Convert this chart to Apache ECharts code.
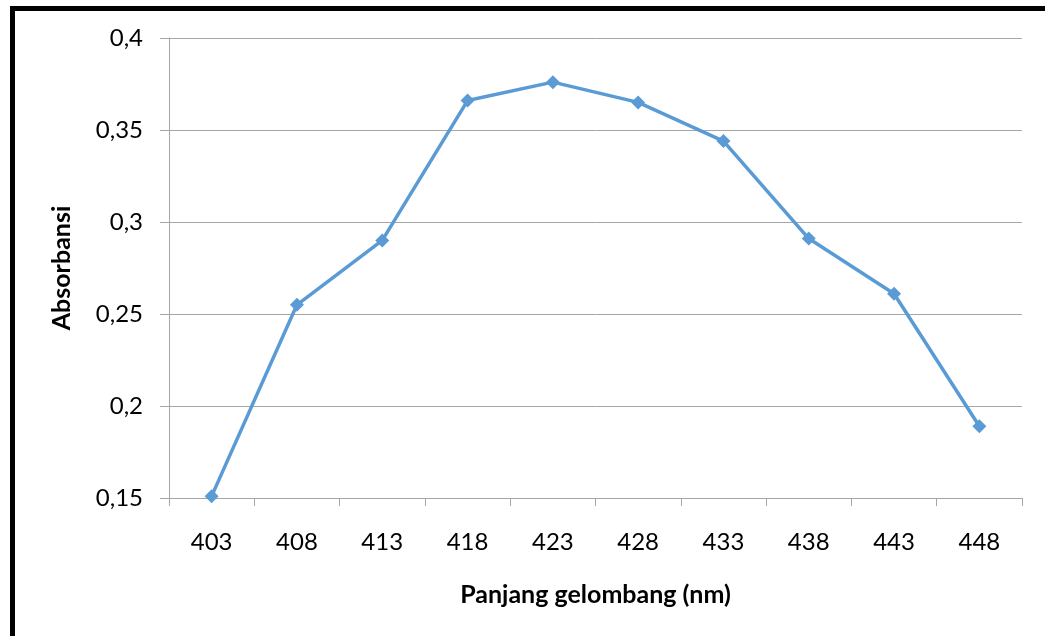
<!DOCTYPE html>
<html><head><meta charset="utf-8">
<script src="https://cdn.jsdelivr.net/npm/echarts@6/dist/echarts.min.js"></script>
<style>html,body{margin:0;padding:0;background:#fff}#c{width:1045px;height:636px}</style>
</head><body><div id="c"></div>
<script>
const categories = ['403','408','413','418','423','428','433','438','443','448'];
const absorbance = [0.151,0.255,0.290,0.366,0.376,0.365,0.344,0.291,0.261,0.189];
const yTicks = {min:0.15, max:0.4, interval:0.05};
const xTitle = 'Panjang gelombang (nm)';
const yTitle = 'Absorbansi';

const FONT = 'Lato';
const chart = echarts.init(document.getElementById('c'), null, {renderer:'canvas'});
chart.setOption({
  animation:false,
  backgroundColor:'#fff',
  graphic:[{type:'rect', shape:{x:12.5,y:8.5,width:1200,height:800}, style:{fill:'none',stroke:'#000',lineWidth:5}, z:100}],
  grid:{left:169, right:23, top:38, bottom:138},
  xAxis:{
    type:'category', data:categories, boundaryGap:true,
    name:xTitle, nameLocation:'middle', nameGap:84,
    nameTextStyle:{fontFamily:FONT,fontWeight:'bold',fontSize:25,color:'#000'},
    axisLine:{lineStyle:{color:'#a6a6a6',width:1}},
    axisTick:{show:true,length:8,alignWithLabel:false,lineStyle:{color:'#a6a6a6'}},
    axisLabel:{fontFamily:FONT,fontSize:24,color:'#000',margin:32,interval:0}
  },
  yAxis:{
    type:'value', min:yTicks.min, max:yTicks.max, interval:yTicks.interval,
    name:yTitle, nameLocation:'middle', nameGap:95, nameRotate:90,
    nameTextStyle:{fontFamily:FONT,fontWeight:'bold',fontSize:25,color:'#000'},
    axisLine:{show:true,lineStyle:{color:'#a6a6a6',width:1}},
    axisTick:{show:true,length:9,lineStyle:{color:'#a6a6a6'}},
    splitLine:{show:true,lineStyle:{color:'#a6a6a6',width:1}},
    axisLabel:{fontFamily:FONT,fontSize:24,color:'#000',margin:26,
      formatter:v=>String(+v.toFixed(2)).replace('.',',')}
  },
  series:[{
    type:'line', data:absorbance,
    symbol:'diamond', symbolSize:14,
    lineStyle:{color:'#5b9bd5',width:3.5},
    itemStyle:{color:'#5b9bd5'}
  }]
});
</script></body></html>
